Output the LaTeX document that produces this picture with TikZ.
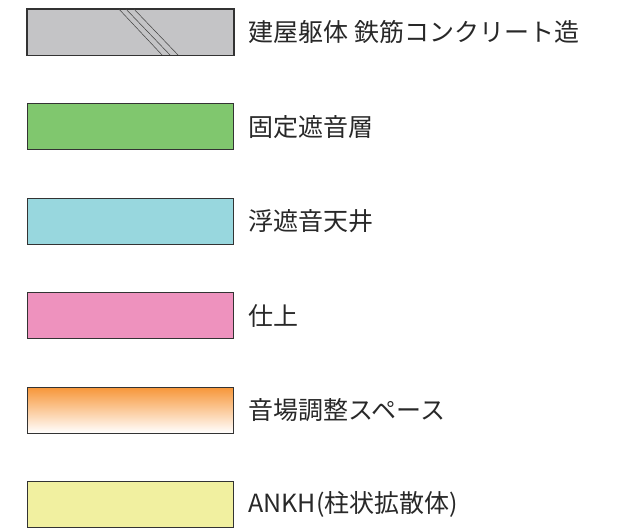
\documentclass[tikz,border=0pt]{standalone}
\usepackage{fontspec}
\setmainfont{Noto Sans CJK JP}
\usetikzlibrary{positioning}
\definecolor{kgray}{RGB}{196,196,198}
\definecolor{kgreen}{RGB}{128,199,110}
\definecolor{kcyan}{RGB}{152,215,222}
\definecolor{kpink}{RGB}{238,146,190}
\definecolor{korange}{RGB}{247,150,56}
\definecolor{kyellow}{RGB}{241,240,160}
\definecolor{ktext}{RGB}{40,40,40}
\tikzset{
  swatch/.style={draw=black!80,line width=1.2pt,minimum width=206pt,minimum height=46pt,inner sep=0pt,anchor=north west},
  legtext/.style={right=14pt of #1,inner sep=0pt,text=ktext,font=\fontsize{25}{29}\selectfont},
}
\begin{document}
\begin{tikzpicture}[x=1pt,y=-1pt]
			\useasboundingbox (0,0) rectangle (618,530);
			\node[swatch,fill=kgray] (rc) at (27,8.5) {};
			\begin{scope}
			\clip (rc.south west) rectangle (rc.north east);
			\draw[line width=0.5pt,black!75] (117,7)--(163,56) (124,7)--(171,56) (132,7)--(179,56);
			\end{scope}
			\draw[line width=1.2pt,black!80] (rc.south west) rectangle (rc.north east);
			\node[swatch,fill=kgreen] (fixed) at (27,103) {};
			\node[swatch,fill=kcyan] (floating) at (27,197.5) {};
			\node[swatch,fill=kpink] (finish) at (27,292) {};
			\node[swatch,top color=korange,bottom color=white] (space) at (27,386.5) {};
			\node[swatch,fill=kyellow] (ankh) at (27,481) {};
			\node[legtext=rc] {建屋躯体 鉄筋コンクリート造};
			\node[legtext=fixed] {固定遮音層};
			\node[legtext=floating] {浮遮音天井};
			\node[legtext=finish] {仕上};
			\node[legtext=space] {音場調整スペース};
			\node[legtext=ankh] {ANKH(柱状拡散体)};
			\end{tikzpicture}
\end{document}
